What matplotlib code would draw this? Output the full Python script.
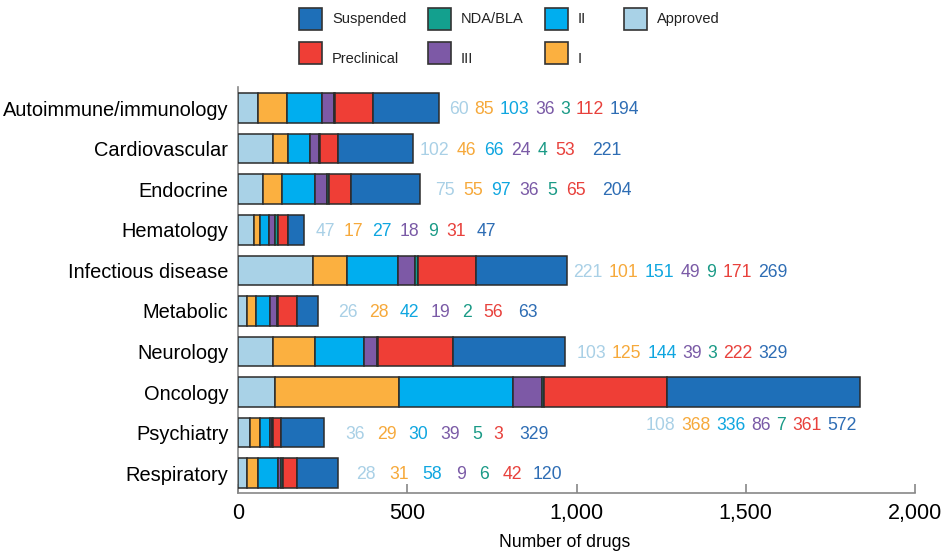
import matplotlib
matplotlib.use("Agg")
import matplotlib.pyplot as plt
from matplotlib.patches import Rectangle
import numpy as np

plt.rcParams['font.family'] = ['Liberation Sans', 'DejaVu Sans']

categories = ["Autoimmune/immunology", "Cardiovascular", "Endocrine", "Hematology",
              "Infectious disease", "Metabolic", "Neurology", "Oncology",
              "Psychiatry", "Respiratory"]

# bar segments, left to right
approved    = [60, 102, 75, 47, 221, 26, 103, 108, 36, 28]
phase1      = [85, 46, 55, 17, 101, 28, 125, 368, 29, 31]
phase2      = [103, 66, 97, 27, 151, 42, 144, 336, 30, 58]
phase3      = [36, 24, 36, 18, 49, 19, 39, 86, 6, 9]
nda_bla     = [3, 4, 5, 9, 9, 2, 3, 7, 3, 6]
preclinical = [112, 53, 65, 31, 171, 56, 222, 361, 24, 42]
suspended   = [194, 221, 204, 47, 269, 63, 329, 572, 127, 120]

# the printed numbers for Psychiatry differ from its bar in the source figure
printed_override = {"Psychiatry": [36, 29, 30, 39, 5, 3, 329]}

stage_names = ["Approved", "I", "II", "III", "NDA/BLA", "Preclinical", "Suspended"]
stage_values = [approved, phase1, phase2, phase3, nda_bla, preclinical, suspended]
bar_colors  = ["#a9d2e7", "#fbb040", "#00aeef", "#7d59a6", "#13a08e", "#ef3e36", "#1e6fb8"]
text_colors = ["#a9d0e6", "#f6a93b", "#0fa6e0", "#7a5aa6", "#1a9a86", "#e8413c", "#2e6db4"]

# label layout per row: (pixel offset after bar end, gap between numbers, gap before last)
label_layout = [(10, 5.7, 5.7), (7, 7.5, 17), (15, 8.5, 17), (11.5, 8.5, 11),
                (6.5, 6.2, 6.2), (20, 11.5, 15), (12, 5.7, 5.7), (None, 5.8, 5.8),
                (21, 12, 16), (19, 13.5, 11)]

W, H = 946, 558
fig = plt.figure(figsize=(W / 100, H / 100), dpi=100)
ax = fig.add_axes([238 / W, 1 - 493 / H, 677 / W, (493 - 87) / H])

y = np.arange(len(categories))
left = np.zeros(len(categories))
for vals, col in zip(stage_values, bar_colors):
    ax.barh(y, vals, left=left, height=0.727, color=col,
            edgecolor="#2b2b2b", linewidth=1.1, zorder=3)
    left += np.array(vals)
totals = left

ax.set_xlim(0, 2000)
ax.set_ylim(9.49, -0.52)
ax.set_yticks(y)
ax.set_yticklabels(categories, fontsize=14.4)
ax.set_xticks([0, 500, 1000, 1500, 2000])
ax.set_xticklabels(["0", "500", "1,000", "1,500", "2,000"], fontsize=15.5)
ax.tick_params(axis="y", length=0, pad=7)
ax.tick_params(axis="x", direction="in", length=6.5, width=1.2, color="#888888", pad=7)
for s in ["top", "right"]:
    ax.spines[s].set_visible(False)
for s in ["left", "bottom"]:
    ax.spines[s].set_color("#888888")
    ax.spines[s].set_linewidth(1.2)
ax.set_xlabel("Number of drugs", fontsize=12.7)
ax.xaxis.set_label_coords(0.483, -0.101)

px_per_unit = 677 / 2000
for i, cat in enumerate(categories):
    nums = printed_override.get(cat, [v[i] for v in stage_values])
    start, gap, last_gap = label_layout[i]
    if start is None:
        # Oncology: numbers sit under the bar
        x0, y0, dx = 1204, i + 0.79 + 0.155, 0
    else:
        x0, y0, dx = totals[i], i + 0.155, start * 0.72
    prev = ax.annotate(str(nums[0]), xy=(x0, y0), xytext=(dx, 0), textcoords="offset points",
                       ha="left", va="baseline", fontsize=12.7, color=text_colors[0])
    for k in range(1, len(nums)):
        g = last_gap if k == len(nums) - 1 else gap
        prev = ax.annotate(str(nums[k]), xy=(1, 0.5), xycoords=prev, xytext=(g * 0.72, 0),
                           textcoords="offset points", ha="left", va="center",
                           fontsize=12.7, color=text_colors[k])

# legend drawn by hand: two rows, four columns
legend_order = ["Suspended", "Preclinical", "NDA/BLA", "III", "II", "I", "Approved"]
col_x = [299, 428, 545, 624]
row_top = [8, 42]
row_base = [23.3, 63.3]
for n, name in enumerate(legend_order):
    c, r = n // 2, n % 2
    col = bar_colors[stage_names.index(name)]
    fig.add_artist(Rectangle((col_x[c] / W, 1 - (row_top[r] + 22) / H), 23 / W, 22 / H,
                             transform=fig.transFigure, facecolor=col,
                             edgecolor="#333333", linewidth=1.2))
    fig.text((col_x[c] + 33) / W, 1 - row_base[r] / H, name, fontsize=10.5,
             ha="left", va="baseline", color="#222222")

fig.savefig("out.png", dpi=100)
